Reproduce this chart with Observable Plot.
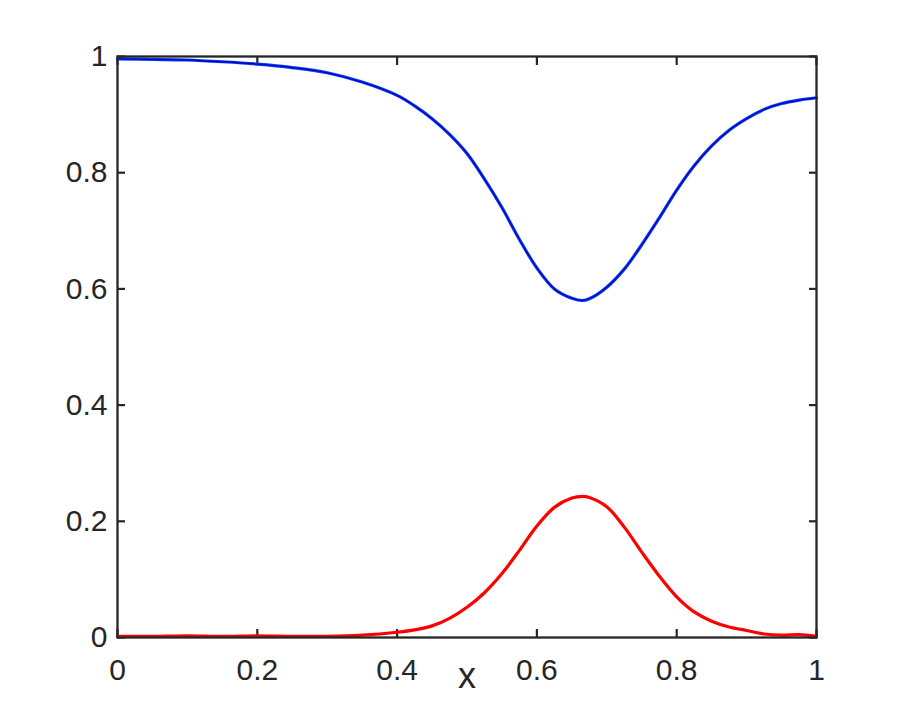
<!DOCTYPE html>
<html>
<head>
<meta charset="utf-8">
<script src="https://cdn.jsdelivr.net/npm/d3@7"></script>
<script src="https://cdn.jsdelivr.net/npm/@observablehq/plot@0.6"></script>
<style>
  html, body { margin: 0; padding: 0; background: #fff; }
  #chart svg { display: block; }
  #chart svg text { font-size: 30px; }
  #chart svg g[aria-label="x-axis label"] text { font-size: 36px; }
</style>
</head>
<body>
<div id="chart"></div>
<script>
const xs = [0, 0.05, 0.1, 0.15, 0.2, 0.25, 0.3, 0.35, 0.4, 0.425, 0.45, 0.475, 0.5, 0.525, 0.55, 0.575, 0.6, 0.625, 0.65, 0.665, 0.675, 0.7, 0.725, 0.75, 0.775, 0.8, 0.825, 0.85, 0.875, 0.9, 0.925, 0.95, 0.975, 1];
const blueValues = [0.996, 0.995, 0.994, 0.991, 0.987, 0.981, 0.972, 0.956, 0.933, 0.915, 0.893, 0.866, 0.833, 0.789, 0.740, 0.685, 0.636, 0.600, 0.584, 0.580, 0.583, 0.603, 0.634, 0.676, 0.722, 0.770, 0.812, 0.846, 0.873, 0.893, 0.909, 0.919, 0.925, 0.929];
const redValues = [0.002, 0.002, 0.003, 0.002, 0.003, 0.002, 0.002, 0.004, 0.009, 0.013, 0.020, 0.033, 0.052, 0.077, 0.110, 0.150, 0.192, 0.224, 0.240, 0.243, 0.241, 0.225, 0.190, 0.147, 0.106, 0.070, 0.044, 0.028, 0.018, 0.012, 0.006, 0.004, 0.005, 0.002];
const xTicks = [0, 0.2, 0.4, 0.6, 0.8, 1];
const yTicks = [0, 0.2, 0.4, 0.6, 0.8, 1];
const xLabel = "x";

const blue = xs.map((x, i) => ({x, y: blueValues[i]}));
const red = xs.map((x, i) => ({x, y: redValues[i]}));

const axisColor = "#262626";
const fmt = d => String(d);

const chart = Plot.plot({
  width: 902,
  height: 716,
  marginLeft: 117,
  marginRight: 86,
  marginTop: 56,
  marginBottom: 79,
  style: {fontFamily: "'Liberation Sans', Arial, Helvetica, sans-serif", fontSize: "30px", color: axisColor, background: "#fff"},
  x: {domain: [0, 1]},
  y: {domain: [0, 1]},
  marks: [
    Plot.axisX({ticks: xTicks, tickSize: -8, tickFormat: () => "", strokeWidth: 2.2, stroke: axisColor, label: null}),
    Plot.axisX({anchor: "top", ticks: xTicks, tickSize: -8, tickFormat: () => "", strokeWidth: 2.2, stroke: axisColor, label: null}),
    Plot.axisY({ticks: yTicks, tickSize: -8, tickFormat: () => "", strokeWidth: 2.2, stroke: axisColor, label: null}),
    Plot.axisY({anchor: "right", ticks: yTicks, tickSize: -8, tickFormat: () => "", strokeWidth: 2.2, stroke: axisColor, label: null}),
    Plot.axisX({ticks: xTicks, tickSize: 0, tickPadding: 21, tickFormat: fmt, fill: axisColor,
      label: xLabel, labelAnchor: "center", labelArrow: "none", labelOffset: 50}),
    Plot.axisY({ticks: yTicks, tickSize: 0, tickPadding: 10, tickFormat: fmt, fill: axisColor, label: null}),
    Plot.line(blue, {x: "x", y: "y", stroke: "#0a3cff", strokeWidth: 3.2, curve: "catmull-rom"}),
    Plot.line(blue, {x: "x", y: "y", stroke: "#0008b8", strokeWidth: 1.3, curve: "catmull-rom"}),
    Plot.line(red, {x: "x", y: "y", stroke: "#ff0000", strokeWidth: 3.2, curve: "catmull-rom"}),
    Plot.frame({stroke: axisColor, strokeWidth: 2.3})
  ]
});
document.getElementById("chart").appendChild(chart);
</script>
</body>
</html>
